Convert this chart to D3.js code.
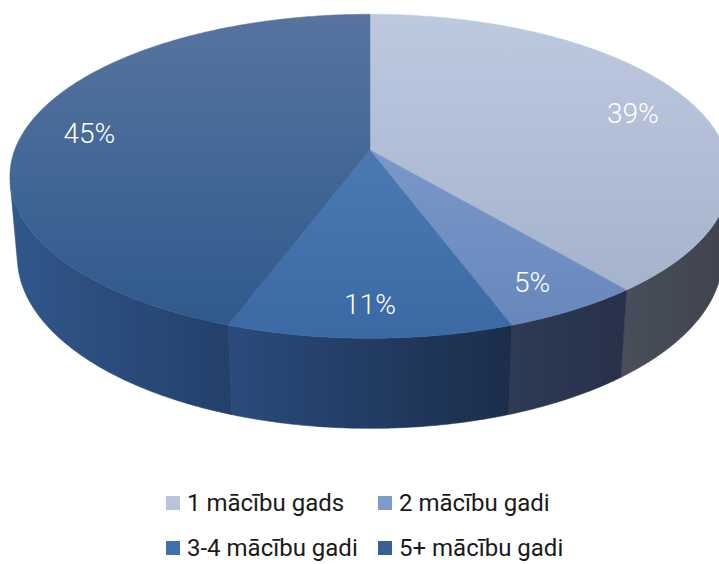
<!DOCTYPE html>
<html><head><meta charset="utf-8">
<script src="https://cdn.jsdelivr.net/npm/d3@7"></script>
<style>html,body{margin:0;padding:0;background:#fff;}svg{display:block;}</style>
</head><body>
<svg id="chart" width="719" height="564"></svg>
<script>
const categories = ["1 mācību gads", "2 mācību gadi", "3-4 mācību gadi", "5+ mācību gadi"];
const values = [39.2, 5.4, 11.0, 44.6];
const valueLabels = ["39%", "5%", "11%", "45%"];
const topColors = [["#bdc9df", "#a1afc9"], ["#88a4d2", "#6686bb"], ["#5585bf", "#3b69a4"], ["#57749f", "#2c598b"]];
const sideColors = [["#484e5a", "#3e434f"], ["#2d3b55", "#273149"], ["#2a4b7c", "#1b2d4a"], ["#31578b", "#23406a"]];
const legendColors = ["#b9c5dd", "#7d9acb", "#3f70ad", "#3b5f90"];

const W = 719, H = 564;
const svg = d3.select("#chart");
const defs = svg.append("defs");

// 3D projection parameters
const sinP = 0.444, cosP = Math.sqrt(1 - sinP * sinP);
const L = 5.53, F = 1965, depth = 0.255;
const cx = 370, cy = 150;
const C = [0, L * sinP, L * cosP];
const fwd = [0, -sinP, -cosP], up = [0, cosP, -sinP];
function project(x, y, z) {
  const v = [x - C[0], y - C[1], z - C[2]];
  const d = v[1] * fwd[1] + v[2] * fwd[2];
  const u = v[1] * up[1] + v[2] * up[2];
  return [cx + F * v[0] / d, cy - F * u / d];
}
function rim(t, y, k = 1) { return project(k * Math.sin(t), y, -k * Math.cos(t)); }

const pie = d3.pie().sort(null).value(d => d)(values);
const step = Math.PI / 360;
function samples(a0, a1) {
  const n = Math.max(2, Math.ceil((a1 - a0) / step));
  return d3.range(n + 1).map(i => a0 + (a1 - a0) * i / n);
}
const line = d3.line();

// front-facing angular range
const tf = Math.acos(-1 / (L * cosP));
const frontA = tf, frontB = 2 * Math.PI - tf;

const gSide = svg.append("g"), gTop = svg.append("g"), gLab = svg.append("g");

pie.forEach((p, i) => {
  const a0 = Math.max(p.startAngle, frontA), a1 = Math.min(p.endAngle, frontB);
  if (a1 > a0) {
    const ts = samples(a0, a1);
    const topPts = ts.map(t => rim(t, 0));
    const botPts = ts.slice().reverse().map(t => rim(t, -depth));
    const pts = topPts.concat(botPts);
    const xs = pts.map(d => d[0]);
    const gid = "side" + i;
    const g = defs.append("linearGradient").attr("id", gid).attr("gradientUnits", "userSpaceOnUse")
      .attr("x1", d3.min(xs)).attr("x2", d3.max(xs)).attr("y1", 0).attr("y2", 0);
    g.append("stop").attr("offset", 0).attr("stop-color", sideColors[i][0]);
    g.append("stop").attr("offset", 1).attr("stop-color", sideColors[i][1]);
    gSide.append("path").attr("d", line(pts) + "Z").attr("fill", `url(#${gid})`)
      .attr("stroke", `url(#${gid})`).attr("stroke-width", 0.6);
  }
  const tid = "top" + i;
  const g2 = defs.append("linearGradient").attr("id", tid).attr("gradientUnits", "userSpaceOnUse")
    .attr("x1", 0).attr("x2", 0).attr("y1", project(0, 0, -1)[1]).attr("y2", project(0, 0, 1)[1]);
  g2.append("stop").attr("offset", 0).attr("stop-color", topColors[i][0]);
  g2.append("stop").attr("offset", 1).attr("stop-color", topColors[i][1]);
  const tpts = [project(0, 0, 0)].concat(samples(p.startAngle, p.endAngle).map(t => rim(t, 0)));
  gTop.append("path").attr("d", line(tpts) + "Z").attr("fill", `url(#${tid})`)
    .attr("stroke", `url(#${tid})`).attr("stroke-width", 0.5);
  const mid = (p.startAngle + p.endAngle) / 2;
  const lp = rim(mid, 0, 0.82);
  gLab.append("text").attr("x", lp[0]).attr("y", lp[1] + 5).attr("text-anchor", "middle")
    .attr("dominant-baseline", "central").attr("fill", "#ffffff")
    .style("font-family", "Roboto, sans-serif").style("font-weight", 300).style("font-size", "28px")
    .text(valueLabels[i]);
});

// legend
const legPos = [[166, 503], [378, 503], [166, 548], [378, 548]];
const leg = svg.append("g");
categories.forEach((c, i) => {
  const [x, y] = legPos[i];
  leg.append("rect").attr("x", x).attr("y", y - 7).attr("width", 14).attr("height", 14).attr("fill", legendColors[i]);
  leg.append("text").attr("x", x + 21).attr("y", y).attr("dominant-baseline", "central")
    .attr("fill", "#1a1a1a").style("font-family", "Roboto, sans-serif").style("font-size", "24px")
    .text(c);
});
</script>
</body></html>
